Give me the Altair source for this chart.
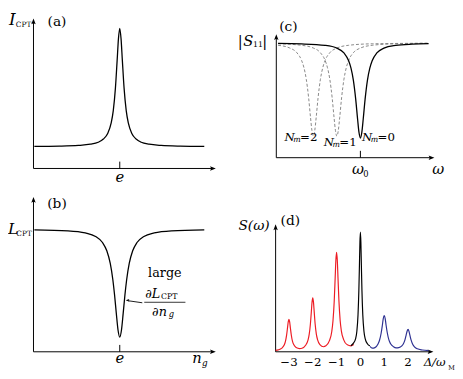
import altair as alt
import pandas as pd

FONT = "DejaVu Serif"

# ---------------- data ----------------
# (a) I_CPT versus n_g  (n_g in units where the tick "e" is at 1)
a_ng = [0.01, 0.30, 0.52, 0.66, 0.75, 0.81, 0.86, 0.90, 0.925, 0.95, 0.97, 0.985, 1.0,
        1.015, 1.03, 1.05, 1.075, 1.10, 1.14, 1.19, 1.25, 1.34, 1.48, 1.70, 1.98]
a_I = [0.157, 0.159, 0.164, 0.173, 0.187, 0.21, 0.25, 0.323, 0.413, 0.575, 0.773, 0.926, 1.0,
       0.926, 0.773, 0.575, 0.413, 0.323, 0.25, 0.21, 0.187, 0.173, 0.164, 0.159, 0.157]

# (b) L_CPT versus n_g
b_ng = [0.01, 0.40, 0.60, 0.72, 0.80, 0.85, 0.89, 0.92, 0.94, 0.96, 0.98, 1.0,
        1.02, 1.04, 1.06, 1.08, 1.11, 1.15, 1.20, 1.28, 1.40, 1.60, 1.98]
b_L = [0.995, 0.987, 0.970, 0.941, 0.892, 0.824, 0.721, 0.588, 0.463, 0.315, 0.178, 0.12,
       0.178, 0.315, 0.463, 0.588, 0.721, 0.824, 0.892, 0.941, 0.970, 0.987, 0.995]

# (c) |S11| versus omega (omega_0 at 0), solid N_m = 0
c0_w = [-3.5, -2.5, -1.5, -1.0, -0.7, -0.5, -0.4, -0.3, -0.2, -0.12, -0.06, 0.0,
        0.06, 0.12, 0.2, 0.3, 0.4, 0.5, 0.7, 1.0, 1.5, 2.2, 2.9]
c0_s = [0.996, 0.992, 0.979, 0.955, 0.913, 0.845, 0.781, 0.677, 0.511, 0.337, 0.220, 0.171,
        0.220, 0.337, 0.511, 0.677, 0.781, 0.845, 0.913, 0.955, 0.979, 0.990, 0.994]
# dashed N_m = 1
c1_w = [-3.5, -2.5, -2.0, -1.7, -1.5, -1.4, -1.3, -1.2, -1.12, -1.06, -1.0,
        -0.94, -0.88, -0.8, -0.7, -0.6, -0.5, -0.3, 0.0, 0.5, 1.5, 2.9]
c1_s = [0.993, 0.980, 0.956, 0.915, 0.848, 0.785, 0.683, 0.521, 0.350, 0.236, 0.188,
        0.236, 0.350, 0.521, 0.683, 0.785, 0.848, 0.915, 0.956, 0.980, 0.993, 0.997]
# dashed N_m = 2
c2_w = [-3.5, -3.0, -2.7, -2.5, -2.4, -2.3, -2.2, -2.12, -2.06, -2.0,
        -1.94, -1.88, -1.8, -1.7, -1.6, -1.5, -1.3, -1.0, -0.5, 0.5, 2.9]
c2_s = [0.980, 0.956, 0.915, 0.848, 0.785, 0.683, 0.521, 0.350, 0.236, 0.188,
        0.236, 0.350, 0.521, 0.683, 0.785, 0.848, 0.915, 0.956, 0.980, 0.993, 0.998]
c_labels = ["=2", "=1", "=0"]

# (d) S(omega) versus Delta/omega_M
d_red_x = [-3.56, -3.45, -3.3, -3.2, -3.15, -3.1, -3.06, -3.03, -3.0, -2.97, -2.94, -2.9, -2.85, -2.8,
           -2.7, -2.55, -2.45, -2.3, -2.2, -2.15, -2.1, -2.06, -2.03, -2.0, -1.97, -1.94, -1.9,
           -1.85, -1.8, -1.7, -1.55, -1.45, -1.3, -1.2, -1.15, -1.1, -1.06, -1.03, -1.0, -0.97,
           -0.94, -0.9, -0.85, -0.8, -0.7, -0.55, -0.4, -0.28]
d_red_y = [0.012, 0.016, 0.03, 0.056, 0.085, 0.137, 0.2, 0.25, 0.272, 0.25, 0.2, 0.138, 0.087, 0.06,
           0.036, 0.027, 0.03, 0.055, 0.097, 0.145, 0.23, 0.335, 0.415, 0.452, 0.415, 0.336, 0.232,
           0.148, 0.102, 0.06, 0.042, 0.05, 0.093, 0.172, 0.262, 0.42, 0.615, 0.765, 0.832, 0.765,
           0.615, 0.42, 0.262, 0.175, 0.1, 0.058, 0.05, 0.06]
d_black_x = [-0.4, -0.3, -0.2, -0.15, -0.1, -0.065, -0.04, -0.02, 0.0, 0.02, 0.04, 0.065, 0.1,
             0.15, 0.2, 0.3, 0.4]
d_black_y = [0.05, 0.07, 0.11, 0.17, 0.31, 0.51, 0.73, 0.915, 1.0, 0.915, 0.73, 0.51, 0.31,
             0.17, 0.11, 0.065, 0.05]
d_blue_x = [0.4, 0.5, 0.61, 0.74, 0.8, 0.87, 0.92, 0.96, 1.0, 1.04, 1.08, 1.13, 1.2, 1.26, 1.39,
            1.5, 1.61, 1.74, 1.8, 1.87, 1.92, 1.96, 2.0, 2.04, 2.08, 2.13, 2.2, 2.26, 2.39, 2.6, 2.86]
d_blue_y = [0.045, 0.03, 0.035, 0.065, 0.094, 0.155, 0.22, 0.278, 0.303, 0.278, 0.22, 0.157, 0.097,
            0.07, 0.042, 0.033, 0.035, 0.05, 0.065, 0.1, 0.14, 0.172, 0.187, 0.171, 0.137, 0.097,
            0.06, 0.043, 0.025, 0.015, 0.01]
d_ticks = [-3, -2, -1, 0, 1, 2]
d_tick_labels = ["\u22123", "\u22122", "\u22121", "0", "1", "2"]

RED = "#ed1c24"
BLUE = "#2e3192"
GREY = "#7a7a7a"

ONE = pd.DataFrame({"v": [0]})
ARROW_R = "M0,0L-1,-0.38L-0.8,0L-1,0.38Z"
ARROW_U = "M0,0L-0.38,1L0,0.8L0.38,1Z"
ARROW_L = "M0,0L1,-0.38L0.8,0L1,0.38Z"


class Panel:
    """One sub-figure; page pixel boxes only set up the scale domains."""

    def __init__(self, left, top, width, height, xmap, ymap):
        self.left, self.top, self.w, self.h = left, top, width, height
        self.px0, self.vx0 = xmap[0], xmap[1]
        self.kx = (xmap[3] - xmap[1]) / (xmap[2] - xmap[0])
        self.py0, self.vy0 = ymap[0], ymap[1]
        self.ky = (ymap[3] - ymap[1]) / (ymap[2] - ymap[0])
        self.xs = alt.Scale(domain=[self.dx(left), self.dx(left + width)], nice=False, zero=False)
        self.ys = alt.Scale(domain=[self.dy(top + height), self.dy(top)], nice=False, zero=False)
        self.layers = []

    def dx(self, p):
        return self.vx0 + (p - self.px0) * self.kx

    def dy(self, p):
        return self.vy0 + (p - self.py0) * self.ky

    def enc(self, ch):
        return ch.encode(x=alt.X("x:Q", scale=self.xs, axis=None),
                         y=alt.Y("y:Q", scale=self.ys, axis=None))

    def line(self, xs, ys, color="black", width=1.3, dash=None):
        df = pd.DataFrame({"x": xs, "y": ys, "o": list(range(len(xs)))})
        kw = dict(color=color, strokeWidth=width, interpolate="monotone")
        if dash:
            kw["strokeDash"] = dash
        self.layers.append(self.enc(alt.Chart(df).mark_line(**kw)).encode(order="o:Q"))

    def rule(self, x0, y0, x1, y1, width=1.0, color="black"):
        df = pd.DataFrame({"x": [x0], "y": [y0], "x2": [x1], "y2": [y1]})
        self.layers.append(self.enc(alt.Chart(df).mark_rule(color=color, strokeWidth=width))
                           .encode(x2="x2:Q", y2="y2:Q"))

    def head(self, x, y, shape, size=140):
        df = pd.DataFrame({"x": [x], "y": [y]})
        self.layers.append(self.enc(alt.Chart(df).mark_point(
            shape=shape, filled=True, size=size, color="black", opacity=1, strokeWidth=0)))

    def axes(self, ox, oy, xtip, ytip):
        # ox, oy, xtip, ytip in page pixels
        x0, y0 = self.dx(ox), self.dy(oy)
        self.rule(x0, y0, self.dx(xtip - 3), y0)
        self.rule(x0, y0, x0, self.dy(ytip + 3))
        self.head(self.dx(xtip), y0, ARROW_R)
        self.head(x0, self.dy(ytip), ARROW_U)

    def text(self, px, py, s, size=15, italic=False, align="center", color="black"):
        kw = dict(text=s, fontSize=size, font=FONT, align=align, baseline="middle", color=color)
        if italic:
            kw["fontStyle"] = "italic"
        self.layers.append(alt.Chart(ONE).mark_text(**kw).encode(
            x=alt.value(px - self.left), y=alt.value(py - self.top)))

    def pixel_rule(self, x0, y0, x1, y1, width=0.8):
        self.layers.append(alt.Chart(ONE).mark_rule(color="black", strokeWidth=width).encode(
            x=alt.value(x0 - self.left), x2=alt.value(x1 - self.left),
            y=alt.value(y0 - self.top), y2=alt.value(y1 - self.top)))

    def pixel_head(self, px, py, shape, size=70):
        self.layers.append(alt.Chart(ONE).mark_point(
            shape=shape, filled=True, size=size, color="black", opacity=1, strokeWidth=0).encode(
            x=alt.value(px - self.left), y=alt.value(py - self.top)))

    def chart(self):
        return alt.layer(*self.layers).properties(width=self.w, height=self.h)


# ---------------- panel (a) ----------------
pa = Panel(8, 8, 232, 180, (34, 0, 122, 1), (163, 0, 20, 1))
pa.axes(34, 163, 220, 10)
pa.rule(1, 0, 1, pa.dy(156))
pa.line(a_ng, a_I)
pa.text(9, 12, "I", 17, italic=True, align="left")
pa.text(16, 17, "CPT", 7.5, align="left")
pa.text(58, 14, "(a)", 14)
pa.text(122, 172, "e", 15, italic=True)

# ---------------- panel (b) ----------------
pb = Panel(8, 188, 232, 183, (34, 0, 122, 1), (350, 0, 225, 1))
pb.axes(34, 350, 220, 192)
pb.rule(1, 0, 1, pb.dy(343))
pb.line(b_ng, b_L)
pb.text(8, 225, "L", 16, italic=True, align="left")
pb.text(16.5, 230, "CPT", 7.5, align="left")
pb.text(58, 199, "(b)", 14)
pb.text(122, 356, "e", 15, italic=True)
pb.text(196, 356, "n", 15, italic=True, align="left")
pb.text(206, 362, "g", 9, italic=True, align="left")
pb.text(168, 270, "large", 13)
pb.text(148, 291, "\u2202L", 13, italic=True, align="left")
pb.text(164, 294, "CPT", 8, align="left")
pb.pixel_rule(147, 299.5, 189, 299.5, 0.8)
pb.text(155, 309, "\u2202n", 13, italic=True, align="left")
pb.text(172, 312, "g", 8.5, italic=True, align="left")
pb.pixel_rule(131, 298, 145, 300, 0.9)
pb.pixel_head(128, 297.5, ARROW_L, 60)

# ---------------- panel (c) ----------------
pc = Panel(240, 8, 223, 180, (367.5, 0, 391.5, 1), (152, 0, 35, 1))
pc.axes(281.7, 152, 443, 26)
pc.rule(0, 0, 0, pc.dy(145))
pc.line(c2_w, c2_s, GREY, 0.9, [3, 2])
pc.line(c1_w, c1_s, GREY, 0.9, [3, 2])
pc.line(c0_w, c0_s, "black", 1.3)
pc.text(245, 33, "|", 15)
pc.text(253, 33, "S", 15, italic=True)
pc.text(263, 37, "11", 8)
pc.text(270, 33, "|", 15)
pc.text(294, 19, "(c)", 14)
for (nx, ny), lab in zip([(290, 131), (330, 136), (369, 131)], c_labels):
    pc.text(nx, ny, "N", 12, italic=True, align="left")
    pc.text(nx + 9, ny + 3, "m", 8, italic=True, align="left")
    pc.text(nx + 16, ny, lab, 12, align="left")
pc.text(365, 164, "\u03c9", 15, italic=True)
pc.text(373, 169, "0", 8.5)
pc.text(447, 164, "\u03c9", 15, italic=True)

# ---------------- panel (d) ----------------
pdd = Panel(240, 188, 223, 183, (367.5, 0, 391.8, 1), (350, 0, 228, 1))
pdd.axes(281, 350, 442, 220)
pdd.line(d_red_x, d_red_y, RED, 1.2)
pdd.line(d_blue_x, d_blue_y, BLUE, 1.2)
pdd.line(d_black_x, d_black_y, "black", 1.2)
tick_df = pd.DataFrame({"x": d_ticks, "t": d_tick_labels})
pdd.layers.append(alt.Chart(tick_df).mark_text(fontSize=12, font=FONT, baseline="middle").encode(
    x=alt.X("x:Q", scale=pdd.xs, axis=None), y=alt.value(361 - 188), text="t:N"))
pdd.text(259, 222, "S(\u03c9)", 14, italic=True)
pdd.text(296, 217, "(d)", 14)
pdd.text(432, 361, "\u0394/\u03c9", 12, italic=True, align="left")
pdd.text(457, 367, "M", 6.5, align="left")

chart = alt.concat(pa.chart(), pc.chart(), pb.chart(), pdd.chart(),
                   columns=2, spacing=0).properties(
    padding=0, bounds="flush"
).configure_view(stroke=None)

chart.save("out.html", embed_options={"renderer": "svg", "actions": False})
